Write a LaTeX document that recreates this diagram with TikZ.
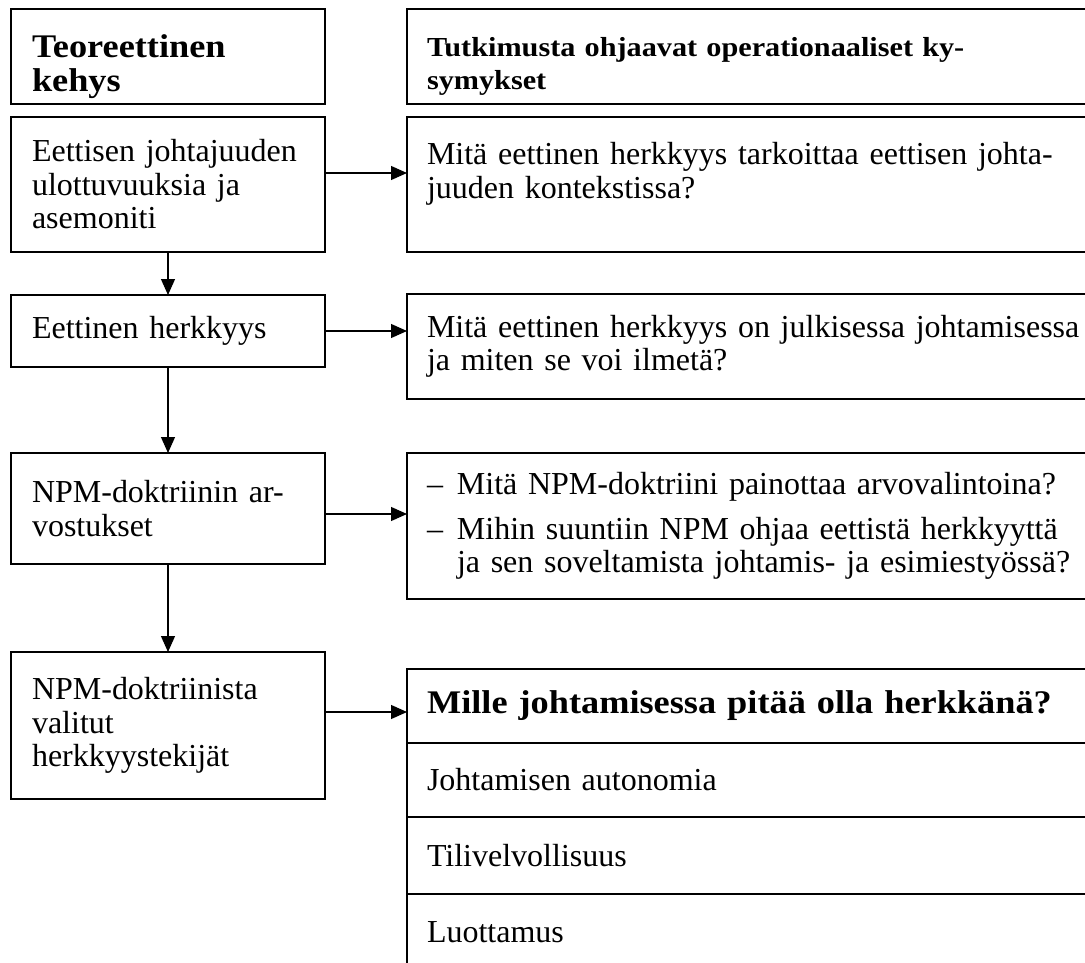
\documentclass[tikz,border=0pt]{standalone}
\usepackage{fontspec}
\setmainfont{Liberation Serif}[BoldFeatures={FakeStretch=1.1}]
\usetikzlibrary{positioning,arrows.meta}

\begin{document}
\begin{tikzpicture}[x=1pt,y=-1pt,>={Triangle[length=16pt,width=14pt]},
   line width=1.2pt,
   box/.style={draw,rectangle,anchor=north west,align=left,outer sep=0pt,
     inner ysep=4pt,font=\fontsize{32}{33.5}\selectfont},
   left box/.style={box,inner xsep=21pt,text width=272pt,minimum width=314pt},
   right box/.style={box,inner xsep=20pt,text width=660pt,minimum width=700pt}]
  \useasboundingbox (0,0) rectangle (1085,963);
  % left column
  \node[left box,minimum height=95pt,inner ysep=2pt,
        font=\fontsize{33}{33.5}\selectfont\bfseries]
    (l1) at (11,9) {\rule{0pt}{43pt}Teoreettinen\\kehys};
  \node[left box,minimum height=135pt] (l2) at (11,117)
    {Eettisen johtajuuden\\ulottuvuuksia ja\\asemoniti};
  \node[left box,minimum height=72pt] (l3) at (11,295) {Eettinen herkkyys};
  \node[left box,minimum height=111pt] (l4) at (11,453)
    {NPM-doktriinin ar-\\vostukset};
  \node[left box,minimum height=147pt] (l5) at (11,652)
    {NPM-doktriinista\\valitut\\herkkyystekijät};
  % right column
  \node[right box,minimum height=95pt,font=\fontsize{27.5}{33}\selectfont\bfseries]
    (r1) at (407,9) {\rule{0pt}{39pt}Tutkimusta ohjaavat operationaaliset ky-\\symykset};
  \node[right box,minimum height=135pt] (r2) at (407,117)
    {\rule{0pt}{38pt}Mitä eettinen herkkyys tarkoittaa eettisen johta-\\juuden kontekstissa?\\\strut};
  \node[right box,minimum height=105pt] (r3) at (407,294)
    {Mitä eettinen herkkyys on julkisessa johtamisessa\\ja miten se voi ilmetä?};
  \node[right box,minimum height=146pt] (r4) at (407,453)
    {\makebox[30pt][l]{–}Mitä NPM-doktriini painottaa arvovalintoina?\\[11pt]
     \makebox[30pt][l]{–}Mihin suuntiin NPM ohjaa eettistä herkkyyttä\\
     \hspace*{30pt}ja sen soveltamista johtamis- ja esimiestyössä?};
  % herkkyystekijat
  \node[right box,minimum height=74pt,font=\fontsize{33}{36}\selectfont\bfseries]
    (h1) at (407,669) {Mille johtamisessa pitää olla herkkänä?};
  \node[right box,minimum height=74pt] (h2) at (h1.south west) {Johtamisen autonomia};
  \node[right box,minimum height=77pt] (h3) at (h2.south west) {Tilivelvollisuus};
  \node[right box,minimum height=77pt] (h4) at (h3.south west) {Luottamus};
  % arrows
  \path[->]
   (l2) edge (l3)
   (l3) edge (l4)
   (l4) edge (l5)
   ([yshift=11.5pt]l2.east) edge ([yshift=11.5pt]l2.east -| r2.west)
   (l3.east) edge (l3.east -| r3.west)
   ([yshift=-5.5pt]l4.east) edge ([yshift=-5.5pt]l4.east -| r4.west)
   ([yshift=13.5pt]l5.east) edge ([yshift=13.5pt]l5.east -| h1.west);
\end{tikzpicture}
\end{document}
